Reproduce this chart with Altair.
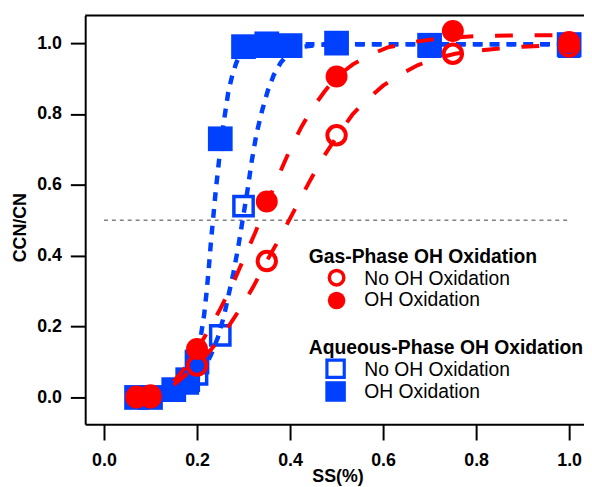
import altair as alt
import pandas as pd

# ---------------- data ----------------
SS_GAS = [0.07, 0.10, 0.20, 0.35, 0.50, 0.75, 1.00]
GAS_NO_OH = [0.0, 0.0, 0.09, 0.385, 0.74, 0.97, 0.99]
GAS_OH = [0.003, 0.006, 0.137, 0.553, 0.906, 1.034, 1.003]

SS_AQ = [0.07, 0.10, 0.15, 0.18, 0.20, 0.25, 0.30, 0.35, 0.40, 0.50, 0.70, 1.00]
AQ_NO_OH = [0.0, 0.0, 0.02, 0.04, 0.065, 0.175, 0.54, 0.99, 0.99, 1.0, 0.99, 0.99]
AQ_OH = [0.0, 0.0, 0.022, 0.05, 0.10, 0.73, 0.99, 0.998, 0.993, 1.0, 0.994, 0.996]

# fitted curves
FIT_AQ_OH_X = [0.15, 0.17, 0.185, 0.195, 0.202, 0.209, 0.215, 0.22, 0.225, 0.23, 0.235, 0.24,
               0.247, 0.253, 0.259, 0.267, 0.275, 0.284, 0.293, 0.305, 0.32, 0.35, 0.45, 0.6, 0.8, 1.0]
FIT_AQ_OH_Y = [0.01, 0.03, 0.06, 0.09, 0.13, 0.18, 0.23, 0.29, 0.36, 0.44, 0.51, 0.58,
               0.665, 0.73, 0.79, 0.86, 0.905, 0.943, 0.97, 0.988, 0.995, 0.997, 0.997, 0.997, 0.997, 0.997]

FIT_AQ_NO_X = [0.15, 0.18, 0.2, 0.215, 0.23, 0.245, 0.258, 0.268, 0.278, 0.288, 0.298, 0.308,
               0.318, 0.328, 0.34, 0.352, 0.365, 0.38, 0.395, 0.41, 0.43, 0.46, 0.5, 0.6, 0.8, 1.0]
FIT_AQ_NO_Y = [0.01, 0.03, 0.055, 0.08, 0.12, 0.17, 0.23, 0.29, 0.35, 0.42, 0.5, 0.58,
               0.67, 0.745, 0.81, 0.865, 0.91, 0.945, 0.968, 0.982, 0.99, 0.995, 0.997, 0.997, 0.997, 0.997]

FIT_GAS_OH_X = [0.15, 0.175, 0.2, 0.225, 0.25, 0.275, 0.3, 0.325, 0.35, 0.375, 0.4, 0.425, 0.45,
                0.475, 0.5, 0.535, 0.57, 0.61, 0.67, 0.72, 0.8, 0.9, 1.0]
FIT_GAS_OH_Y = [0.045, 0.085, 0.135, 0.19, 0.25, 0.315, 0.39, 0.465, 0.545, 0.625, 0.7, 0.765, 0.82,
                0.865, 0.905, 0.94, 0.966, 0.988, 1.004, 1.013, 1.02, 1.022, 1.022]

FIT_GAS_NO_X = [0.15, 0.2, 0.23, 0.26, 0.29, 0.32, 0.35, 0.38, 0.41, 0.44, 0.47, 0.5, 0.535, 0.565,
                0.6, 0.635, 0.675, 0.715, 0.755, 0.8, 0.85, 0.9, 0.95, 1.0]
FIT_GAS_NO_Y = [0.035, 0.09, 0.135, 0.185, 0.245, 0.31, 0.385, 0.455, 0.53, 0.605, 0.675, 0.735, 0.8, 0.84,
                0.88, 0.91, 0.938, 0.957, 0.97, 0.978, 0.985, 0.99, 0.993, 0.996]

HLINE_Y = [0.5]
HLINE_X = [0.0]
HLINE_X2 = [1.0]

X_TICKS = [0.0, 0.2, 0.4, 0.6, 0.8, 1.0]
Y_TICKS = [0.0, 0.2, 0.4, 0.6, 0.8, 1.0]

LEG_GAS_TITLE = "Gas-Phase OH Oxidation"
LEG_AQ_TITLE = "Aqueous-Phase OH Oxidation"
LEG_NO = "No OH Oxidation"
LEG_OH = "OH Oxidation"

# ---------------- styling ----------------
BLUE = "#0040FF"
RED = "#FF0000"
FONT = "Liberation Sans"
W, H = 504, 413
X_DOMAIN = [-0.0404, -0.0404 + W / 470.0]
Y_DOMAIN = [-0.0754, 1.0782]

x_axis = alt.Axis(values=X_TICKS, format=".1f", grid=False, tickSize=16, tickWidth=2,
                  tickColor="black", domainColor="black", domainWidth=2,
                  labelFont=FONT, labelFontSize=18, labelFontWeight="bold", labelColor="black",
                  labelPadding=12, labelFlush=False, labelOverlap=False,
                  title="SS(%)", titleFont=FONT, titleFontSize=18, titleFontWeight="bold",
                  titleColor="black", titleX=255, titleY=58, titleBaseline="alphabetic",
                  titleAlign="center")
y_axis = alt.Axis(values=Y_TICKS, format=".1f", grid=False, tickSize=15, tickWidth=2,
                  tickColor="black", domainColor="black", domainWidth=2,
                  labelFont=FONT, labelFontSize=18, labelFontWeight="bold", labelColor="black",
                  labelPadding=9, labelFlush=False, labelOverlap=False,
                  title="CCN/CN", titleFont=FONT, titleFontSize=18, titleFontWeight="bold",
                  titleColor="black", titleX=-60, titleY=214, titleBaseline="alphabetic",
                  titleAlign="center", titleAngle=270)


def X(field="x"):
    return alt.X(f"{field}:Q", scale=alt.Scale(domain=X_DOMAIN, nice=False, zero=False), axis=x_axis)


def Y(field="y"):
    return alt.Y(f"{field}:Q", scale=alt.Scale(domain=Y_DOMAIN, nice=False, zero=False), axis=y_axis)


def df(xs, ys):
    return pd.DataFrame({"x": xs, "y": ys})


one = pd.DataFrame({"a": [0]})

hline = alt.Chart(pd.DataFrame({"x": HLINE_X, "x2": HLINE_X2, "y": HLINE_Y})).mark_rule(
    color="#808080", strokeWidth=1.5, strokeDash=[4, 4]).encode(x=X(), x2="x2:Q", y=Y())

blue_dash = [9, 8]
red_dash = [18, 22]

fit_aq_oh = alt.Chart(df(FIT_AQ_OH_X, FIT_AQ_OH_Y)).mark_line(
    color=BLUE, strokeWidth=4.5, strokeDash=blue_dash).encode(x=X(), y=Y())
fit_aq_no = alt.Chart(df(FIT_AQ_NO_X, FIT_AQ_NO_Y)).mark_line(
    color=BLUE, strokeWidth=4.5, strokeDash=blue_dash).encode(x=X(), y=Y())

aq_oh = alt.Chart(df(SS_AQ, AQ_OH)).mark_point(
    shape="square", filled=True, size=625, color=BLUE, opacity=1).encode(x=X(), y=Y())
aq_no = alt.Chart(df(SS_AQ, AQ_NO_OH)).mark_point(
    shape="square", filled=False, size=380, strokeWidth=3.5, color=BLUE, opacity=1).encode(x=X(), y=Y())

fit_gas_oh = alt.Chart(df(FIT_GAS_OH_X, FIT_GAS_OH_Y)).mark_line(
    color=RED, strokeWidth=4, strokeDash=red_dash).encode(x=X(), y=Y())
fit_gas_no = alt.Chart(df(FIT_GAS_NO_X, FIT_GAS_NO_Y)).mark_line(
    color=RED, strokeWidth=4, strokeDash=red_dash).encode(x=X(), y=Y())

gas_oh = alt.Chart(df(SS_GAS, GAS_OH)).mark_point(
    shape="circle", filled=True, size=491, color=RED, opacity=1).encode(x=X(), y=Y())
gas_no = alt.Chart(df(SS_GAS, GAS_NO_OH)).mark_point(
    shape="circle", filled=False, size=346, strokeWidth=4, color=RED, opacity=1).encode(x=X(), y=Y())

# frame top line
top_line = alt.Chart(one).mark_rule(color="black", strokeWidth=2).encode(
    x=alt.value(0), x2=alt.value(W + 10), y=alt.value(0))


def leg_text(txt, px, py, bold):
    return alt.Chart(one).mark_text(
        align="left", baseline="alphabetic", font=FONT, fontSize=19.5,
        fontWeight="bold" if bold else "normal", color="black").encode(
        x=alt.value(px), y=alt.value(py), text=alt.value(txt))


def leg_mark(shape, filled, size, color, px, py, sw=3.5):
    kw = dict(shape=shape, filled=filled, size=size, color=color, opacity=1)
    if not filled:
        kw["strokeWidth"] = sw
    return alt.Chart(one).mark_point(**kw).encode(x=alt.value(px), y=alt.value(py))


legend = [
    leg_text(LEG_GAS_TITLE, 226, 250, True),
    leg_mark("circle", False, 214, RED, 254, 265),
    leg_text(LEG_NO, 282, 272, False),
    leg_mark("circle", True, 314, RED, 254, 288),
    leg_text(LEG_OH, 282, 294, False),
    leg_text(LEG_AQ_TITLE, 226, 342, True),
    leg_mark("square", False, 306, BLUE, 253, 357, 3.2),
    leg_text(LEG_NO, 282, 364, False),
    leg_mark("square", True, 430, BLUE, 253, 380),
    leg_text(LEG_OH, 282, 387, False),
]

chart = alt.layer(
    hline, fit_aq_oh, fit_aq_no, aq_oh, aq_no, fit_gas_oh, fit_gas_no, gas_oh, gas_no,
    top_line, *legend
).properties(
    width=W, height=H,
    autosize=alt.AutoSizeParams(type="none"),
    padding={"left": 78, "top": 5, "right": 0, "bottom": 61},
    background="white",
).configure_view(stroke=None)

chart.save("out.html", embed_options={"renderer": "svg", "actions": False})
